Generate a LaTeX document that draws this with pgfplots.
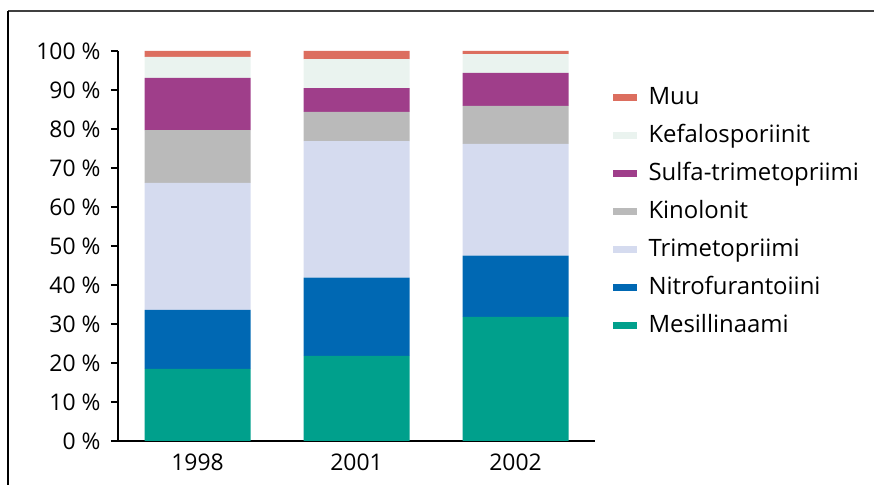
\documentclass[border=0pt]{standalone}
\usepackage{fontspec}
\setmainfont{Open Sans}
\usepackage{pgfplots}
\pgfplotsset{compat=1.18}

\definecolor{cMes}{HTML}{00A08C}
\definecolor{cNit}{HTML}{0068B3}
\definecolor{cTri}{HTML}{D5DBEF}
\definecolor{cKin}{HTML}{BABABA}
\definecolor{cSul}{HTML}{9F3E8A}
\definecolor{cKef}{HTML}{EAF3EF}
\definecolor{cMuu}{HTML}{DC6E5F}

\begin{document}
\begin{tikzpicture}
\path[use as bounding box] (0,0) rectangle (874bp,485bp);
\draw[line width=1.6bp, color=black!75] (8bp,474bp) -- (874bp,474bp);
\draw[line width=1.2bp] (8bp,474bp) -- (8bp,0);
\begin{axis}[
  at={(118bp,44bp)}, anchor=origin,
  scale only axis,
  width=477bp, height=390bp,
  ybar stacked, bar width=106bp,
  xmin=0, xmax=3, ymin=0, ymax=100,
  axis x line=bottom, axis y line=left,
  axis line style={line width=1.6bp, -},
  xtick={0.5,1.5,2.5},
  xticklabels={1998,2001,2002},
  minor xtick={0,1,2,3},
  xtick style={draw=none},
  minor tick length=7bp,
  minor x tick style={line width=1.6bp, black},
  ytick={0,10,...,100},
  y tick style={line width=1.4bp, black},
  major tick length=7bp,
  tick align=outside,
  yticklabel={\pgfmathprintnumber{\tick} \%},
  /pgf/number format/assume math mode=true,
  tick label style={font=\fontsize{23}{26}\selectfont},
  yticklabel style={xshift=-7bp},
  xticklabel style={yshift=-2bp},
  reverse legend,
  legend cell align=left,
  legend style={at={(axis description cs:1.03,0.92)}, anchor=north west,
    draw=none, font=\fontsize{24}{28}\selectfont, row sep=11bp,
    nodes={inner sep=2bp, text height=18bp, text depth=5bp},
    /tikz/every odd column/.append style={column sep=10bp}},
  legend image code/.code={\fill[#1] (0bp,-3.5bp) rectangle (24bp,3.5bp);},
]
\addplot[fill=cMes, draw=none] coordinates {(0.5,18.5) (1.5,21.8) (2.5,31.8)};
\addplot[fill=cNit, draw=none] coordinates {(0.5,15.1) (1.5,20.1) (2.5,15.7)};
\addplot[fill=cTri, draw=none] coordinates {(0.5,32.6) (1.5,35.0) (2.5,28.7)};
\addplot[fill=cKin, draw=none] coordinates {(0.5,13.5) (1.5,7.5) (2.5,9.7)};
\addplot[fill=cSul, draw=none] coordinates {(0.5,13.4) (1.5,6.1) (2.5,8.5)};
\addplot[fill=cKef, draw=none] coordinates {(0.5,5.4) (1.5,7.4) (2.5,4.8)};
\addplot[fill=cMuu, draw=none] coordinates {(0.5,1.5) (1.5,2.1) (2.5,0.8)};
\legend{Mesillinaami,Nitrofurantoiini,Trimetopriimi,Kinolonit,Sulfa-trimetopriimi,Kefalosporiinit,Muu}
\end{axis}
\end{tikzpicture}
\end{document}
